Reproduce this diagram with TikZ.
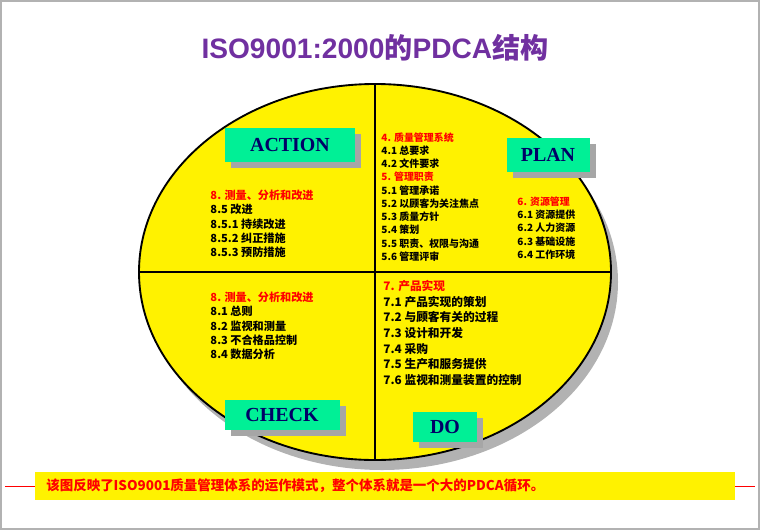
\documentclass[tikz,border=0pt]{standalone}
\usepackage{fontspec}
\setmainfont{Liberation Serif}
\newfontfamily\cjk{Noto Sans CJK SC}
\newfontfamily\titlefont{Liberation Sans}
\usetikzlibrary{positioning, calc}
\definecolor{phasegreen}{RGB}{0,240,150}
\definecolor{titlepurple}{RGB}{112,48,160}

\begin{document}
\begin{tikzpicture}[x=0.03cm, y=-0.03cm, thick]
    % Define block styles
    \tikzset{
        phase/.style = {rectangle, fill=phasegreen, font=\bfseries\fontsize{17}{17}\selectfont, text=blue!40!black, inner sep=0pt},
        shadow/.style = {fill=gray!70},
        item/.style = {anchor=west, align=left, font=\cjk\bfseries\fontsize{9.5}{12.2}\selectfont, inner sep=0pt},
    }
    \useasboundingbox (0,0) rectangle (760,530);
    \draw [gray!60, line width=2pt] (1,1) rectangle (759,529);

    % Title
    \node [font=\titlefont\bfseries\fontsize{24}{24}\selectfont, text=titlepurple] (title) at (375,48) {ISO9001:2000\cjk 的\titlefont PDCA\cjk 结构};

    % Ellipse and quadrants
    \fill [gray!60] (382,282) ellipse (236 and 188);
    \draw [fill=yellow, line width=1.6pt] (375,272) ellipse (236 and 188);
    \coordinate (top) at (375,84);
    \coordinate (bottom) at (375,460);
    \coordinate (left) at (139,272);
    \coordinate (right) at (611,272);
    \draw [line width=2pt] (top) -- (bottom);
    \draw [line width=2pt] (left) -- (right);

    % Phase labels
    \fill [shadow] (231,134) rectangle (361,168);
    \node [phase, minimum width=130*0.03cm, minimum height=34*0.03cm] (action) at (290,145) {ACTION};
    \fill [shadow] (513,144) rectangle (596,178);
    \node [phase, minimum width=83*0.03cm, minimum height=34*0.03cm] (plan) at (548,155) {PLAN};
    \fill [shadow] (231,406) rectangle (346,436);
    \node [phase, minimum width=115*0.03cm, minimum height=30*0.03cm] (check) at (282,415) {CHECK};
    \fill [shadow] (419,418) rectangle (483,448);
    \node [phase, minimum width=64*0.03cm, minimum height=30*0.03cm] (do) at (445,427) {DO};

    % Clause texts
    \node [item] (act) at (210,224) {\textcolor{red}{8. 测量、分析和改进}\\8.5 改进\\8.5.1 持续改进\\8.5.2 纠正措施\\8.5.3 预防措施};
    \node [item, font=\cjk\bfseries\fontsize{8.5}{11.3}\selectfont] (pln) at (381,197) {\textcolor{red}{4. 质量管理系统}\\4.1 总要求\\4.2 文件要求\\\textcolor{red}{5. 管理职责}\\5.1 管理承诺\\5.2 以顾客为关注焦点\\5.3 质量方针\\5.4 策划\\5.5 职责、权限与沟通\\5.6 管理评审};
    \node [item, font=\cjk\bfseries\fontsize{8.5}{11.3}\selectfont] (res) at (517,228) {\textcolor{red}{6. 资源管理}\\6.1 资源提供\\6.2 人力资源\\6.3 基础设施\\6.4 工作环境};
    \node [item] (chk) at (210,326) {\textcolor{red}{8. 测量、分析和改进}\\8.1 总则\\8.2 监视和测量\\8.3 不合格品控制\\8.4 数据分析};
    \node [item, font=\cjk\bfseries\fontsize{10}{13.3}\selectfont] (dos) at (383,333) {\textcolor{red}{7. 产品实现}\\7.1 产品实现的策划\\7.2 与顾客有关的过程\\7.3 设计和开发\\7.4 采购\\7.5 生产和服务提供\\7.6 监视和测量装置的控制};

    % Footer
    \draw [red] (5,486) -- (755,486);
    \fill [yellow] (35,472) rectangle (735,500);
    \node [anchor=west, text=red, font=\cjk\bfseries\fontsize{11.5}{11.5}\selectfont] (note) at (42,486) {该图反映了ISO9001质量管理体系的运作模式，整个体系就是一个大的PDCA循环。};
\end{tikzpicture}
\end{document}
